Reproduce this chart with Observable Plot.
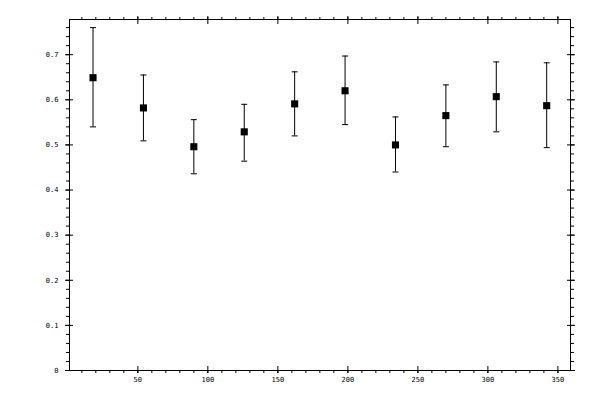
<!DOCTYPE html>
<html>
<head>
<meta charset="utf-8">
<script src="https://cdn.jsdelivr.net/npm/d3@7"></script>
<script src="https://cdn.jsdelivr.net/npm/@observablehq/plot@0.6"></script>
<style>
  html, body { margin: 0; padding: 0; background: #fff; }
</style>
</head>
<body>
<div id="chart"></div>
<script>
const xValues = [18, 54, 90, 126, 162, 198, 234, 270, 306, 342];
const means   = [0.649, 0.582, 0.496, 0.529, 0.591, 0.620, 0.500, 0.565, 0.607, 0.587];
const upper   = [0.760, 0.655, 0.556, 0.590, 0.662, 0.697, 0.562, 0.633, 0.684, 0.682];
const lower   = [0.540, 0.509, 0.436, 0.464, 0.520, 0.545, 0.440, 0.496, 0.529, 0.494];

const xMajor = [50, 100, 150, 200, 250, 300, 350];
const xMinor = d3.range(10, 360, 10);
const yMajor = [0, 0.1, 0.2, 0.3, 0.4, 0.5, 0.6, 0.7];
const yMinor = d3.range(0, 39).map(i => i / 50);

const data = xValues.map((x, i) => ({x, mean: means[i], hi: upper[i], lo: lower[i]}));

const capSymbol = {
  draw(context, size) {
    const w = 3;
    context.moveTo(-w, 0);
    context.lineTo(w, 0);
  }
};

const fmt = d => String(d);

const chart = Plot.plot({
  width: 600,
  height: 400,
  marginLeft: 69,
  marginRight: 30,
  marginTop: 19,
  marginBottom: 30,
  style: {fontFamily: "DejaVu Sans Mono", fontSize: "7px", background: "#fff", color: "#000"},
  x: {domain: [1.2, 359]},
  y: {domain: [0, 0.778]},
  marks: [
    Plot.frame({stroke: "#000"}),
    // bottom axis
    Plot.axisX(xMinor, {anchor: "bottom", tickSize: 3, fill: "none", label: null}),
    Plot.axisX(xMajor, {anchor: "bottom", tickSize: 7, dy: -4, fill: "none", label: null}),
    Plot.axisX(xMajor, {anchor: "bottom", tickSize: 0, tickPadding: 7, fill: "#000", tickFormat: fmt, label: null}),
    // top axis
    Plot.axisX(xMinor, {anchor: "top", tickSize: 3, fill: "none", label: null}),
    Plot.axisX(xMajor, {anchor: "top", tickSize: 8, dy: 4, fill: "none", label: null}),
    // left axis
    Plot.axisY(yMinor, {anchor: "left", tickSize: 3, fill: "none", label: null}),
    Plot.axisY(yMajor, {anchor: "left", tickSize: 8, dx: 4, fill: "none", label: null}),
    Plot.axisY(yMajor, {anchor: "left", tickSize: 0, tickPadding: 11, fill: "#000", tickFormat: fmt, label: null}),
    // right axis
    Plot.axisY(yMinor, {anchor: "right", tickSize: 3, fill: "none", label: null}),
    Plot.axisY(yMajor, {anchor: "right", tickSize: 8, dx: -4, fill: "none", label: null}),
    // error bars
    Plot.ruleX(data, {x: "x", y1: "lo", y2: "hi", stroke: "#000", strokeWidth: 1}),
    Plot.dot(data, {x: "x", y: "hi", symbol: capSymbol, stroke: "#000", fill: "none", strokeWidth: 1}),
    Plot.dot(data, {x: "x", y: "lo", symbol: capSymbol, stroke: "#000", fill: "none", strokeWidth: 1}),
    // points
    Plot.dot(data, {x: "x", y: "mean", symbol: "square", r: 4, fill: "#000", stroke: "none"})
  ]
});
document.getElementById("chart").appendChild(chart);
</script>
</body>
</html>
